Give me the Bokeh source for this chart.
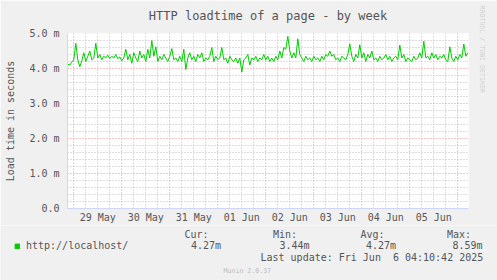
import pandas as pd
from bokeh.plotting import figure
from bokeh.layouts import column
from bokeh.models import (Range1d, FixedTicker, Grid, Label, DatetimeTickFormatter,
                          Legend, LegendItem, Title)
from bokeh.embed import file_html
from bokeh.resources import INLINE

# ---------------- data ----------------
title = "HTTP loadtime of a page - by week"
y_label = "Load time in seconds"
series_name = "http://localhost/"
series_start = "2025-05-28 21:00"   # first sample, one sample per hour
load_ms = [
    4.12, 4.10, 4.18, 4.25, 4.72, 4.25, 4.05, 4.22, 4.45, 4.20,
    4.35, 4.50, 4.25, 4.30, 4.72, 4.30, 4.40, 4.25, 4.35, 4.30,
    4.38, 4.28, 4.35, 4.30, 4.40, 4.28, 4.33, 4.22, 4.30, 4.55,
    4.25, 4.40, 4.15, 4.45, 4.30, 4.20, 4.50, 4.30, 4.40, 4.20,
    4.55, 4.30, 4.80, 4.35, 4.62, 4.20, 4.35, 4.25, 4.40, 4.30,
    4.20, 4.35, 4.57, 4.25, 4.30, 4.20, 4.35, 4.20, 4.55, 3.97,
    4.30, 4.45, 4.25, 4.35, 4.20, 4.40, 4.30, 4.45, 4.20, 4.30,
    4.25, 4.35, 4.60, 4.20, 4.35, 4.25, 4.30, 4.60, 4.25, 4.30,
    4.15, 4.35, 4.25, 4.20, 4.30, 4.15, 4.30, 3.90, 4.25, 4.30,
    4.40, 4.10, 4.30, 4.25, 4.35, 4.20, 4.30, 4.25, 4.40, 4.25,
    4.35, 4.20, 4.30, 4.20, 4.35, 4.25, 4.50, 4.30, 4.60, 4.55,
    4.92, 4.50, 4.30, 4.45, 4.30, 4.85, 4.40, 4.30, 4.20, 4.35,
    4.25, 4.30, 4.20, 4.35, 4.25, 4.30, 4.20, 4.35, 4.25, 4.40,
    4.35, 4.50, 4.35, 4.40, 4.25, 4.30, 4.20, 4.35, 4.30, 4.25,
    4.40, 4.70, 4.35, 4.20, 4.40, 4.30, 4.68, 4.30, 4.45, 4.20,
    4.40, 4.30, 4.50, 4.25, 4.30, 4.20, 4.35, 4.25, 4.30, 4.40,
    4.25, 4.35, 4.20, 4.30, 4.35, 4.25, 4.67, 4.30, 4.40, 4.20,
    4.30, 4.25, 4.20, 4.35, 4.25, 4.30, 4.45, 4.30, 4.78, 4.30,
    4.35, 4.25, 4.45, 4.30, 4.40, 4.25, 4.35, 4.30, 4.40, 4.25,
    4.20, 4.62, 4.30, 4.20, 4.35, 4.25, 4.40, 4.30, 4.70, 4.35,
    4.45,
]
day_ticks = ["2025-05-29 12:00", "2025-05-30 12:00", "2025-05-31 12:00",
             "2025-06-01 12:00", "2025-06-02 12:00", "2025-06-03 12:00",
             "2025-06-04 12:00", "2025-06-05 12:00"]
y_ticks = [0, 1, 2, 3, 4, 5]
y_tick_labels = ["0.0", "1.0 m", "2.0 m", "3.0 m", "4.0 m", "5.0 m"]
stat_names = ["Cur:", "Min:", "Avg:", "Max:"]
stat_values = ["4.27m", "3.44m", "4.27m", "8.59m"]
last_update = "Last update: Fri Jun \u00a06 04:10:42 2025"
version_text = "Munin 2.0.37"
watermark = "RRDTOOL / TOBI OETIKER"

# ---------------- derived ----------------
times = pd.date_range(series_start, periods=len(load_ms), freq="h")
x_start = times[0] - pd.Timedelta(minutes=9)
x_end = times[-1] + pd.Timedelta(minutes=21)
ms = lambda t: pd.Timestamp(t).value / 1e6

FONT = "DejaVu Sans Mono"
TXT = "#555555"
AXIS_C = "#CFD6F8"
BG = "#F0F0F0"

W, H = 497, 280
L, R, T, B = 67, 468, 33, 208
H1 = 225                     # height of the chart part, the rest is the legend strip

p = figure(width=W, height=H1, output_backend="svg", toolbar_location=None,
           x_axis_type="datetime",
           x_range=Range1d(ms(x_start), ms(x_end)), y_range=Range1d(0, 5),
           min_border_left=L, min_border_right=W - R, min_border_top=T,
           min_border_bottom=H1 - B)
p.background_fill_color = "white"
p.border_fill_color = BG
p.outline_line_color = None

p.title = Title(text=title, align="center", vertical_align="top", text_font=FONT,
                text_font_size="12px", text_font_style="normal", text_color=TXT,
                standoff=17)

p.add_layout(Title(text=watermark, align="left", vertical_align="top", text_font=FONT,
                   text_font_size="6.6px", text_font_style="normal", text_color="#D0D0D0",
                   standoff=14, offset=-28), "right")

# axes
p.xaxis.ticker = FixedTicker(ticks=[ms(t) for t in day_ticks])
p.xaxis.formatter = DatetimeTickFormatter(days="%d %b", hours="%d %b", months="%d %b")
p.yaxis.ticker = FixedTicker(ticks=y_ticks)
p.yaxis.major_label_overrides = {t: s for t, s in zip(y_ticks, y_tick_labels)}
p.yaxis.axis_label = y_label
for ax in (p.xaxis, p.yaxis):
    ax.axis_line_color = AXIS_C
    ax.major_tick_out = 0
    ax.major_tick_in = 0
    ax.minor_tick_out = 0
    ax.minor_tick_in = 0
    ax.major_label_text_font = FONT
    ax.major_label_text_font_size = "10px"
    ax.major_label_text_color = TXT
    ax.axis_label_text_font = FONT
    ax.axis_label_text_font_size = "10px"
    ax.axis_label_text_font_style = "normal"
    ax.axis_label_text_color = TXT
p.xaxis.major_label_standoff = 3
p.yaxis.major_label_standoff = 8
p.yaxis.axis_label_standoff = 10

# grids
p.xgrid.visible = False
p.ygrid.visible = False
day0 = pd.Timestamp("2025-05-29 00:00")
minor_x = [ms(day0 + pd.Timedelta(hours=h)) for h in range(-6, 204, 6) if h % 24 != 0]
major_x = [ms(day0 + pd.Timedelta(hours=h)) for h in range(0, 204, 24)]
minor_y = [i / 5 for i in range(1, 25) if i % 5 != 0]
major_y = [1, 2, 3, 4, 5]
for dim, ticks, col in [(0, minor_x, "#BDBDBD"), (1, minor_y, "#BDBDBD"),
                        (0, major_x, "#EE8E8E"), (1, major_y, "#EE8E8E")]:
    p.add_layout(Grid(dimension=dim, ticker=FixedTicker(ticks=ticks),
                      grid_line_color=col, grid_line_dash="1 2"))

line = p.line(times, load_ms, line_color="#00CC00", line_width=1)

# ---------------- legend strip ----------------
q = figure(width=W, height=H - H1, output_backend="svg", toolbar_location=None,
           x_range=Range1d(0, W), y_range=Range1d(H, H1),
           min_border_left=0, min_border_right=0, min_border_top=0, min_border_bottom=0,
           x_axis_location=None, y_axis_location=None)
for fig in (p, q):
    try:
        fig.frame_align = False
    except Exception:
        pass
q.background_fill_color = BG
q.border_fill_color = BG
q.outline_line_color = None
q.xgrid.visible = False
q.ygrid.visible = False

sq = q.quad(left=[-20], right=[-14], top=[-20], bottom=[-14],
            fill_color="#00CC00", line_color="#00CC00")
leg = Legend(items=[LegendItem(label=series_name, renderers=[sq])],
             location=(14, H - 251), orientation="horizontal",
             border_line_color=None, background_fill_alpha=0, padding=0, margin=0,
             glyph_width=6, glyph_height=6, label_height=6, label_standoff=6,
             label_text_font=FONT, label_text_font_size="10px", label_text_color=TXT)
q.add_layout(leg)


def lab(text, px, py, size="10px", color=TXT):
    q.add_layout(Label(x=px, y=py, text=text, text_font=FONT, text_font_size=size,
                       text_color=color, text_align="left", text_baseline="middle"))


name_x = [184, 272.5, 360, 446.5]
val_x = [190.5, 279, 365.5, 452]
for n, v, nx, vx in zip(stat_names, stat_values, name_x, val_x):
    lab(n, nx, 233.5)
    lab(v, vx, 245)
lab(last_update, 260, 257)
lab(version_text, 223, 270, size="6.6px", color="#BBBBBB")

layout = column(p, q, spacing=0)
open("out.html", "w").write(file_html(layout, INLINE))
